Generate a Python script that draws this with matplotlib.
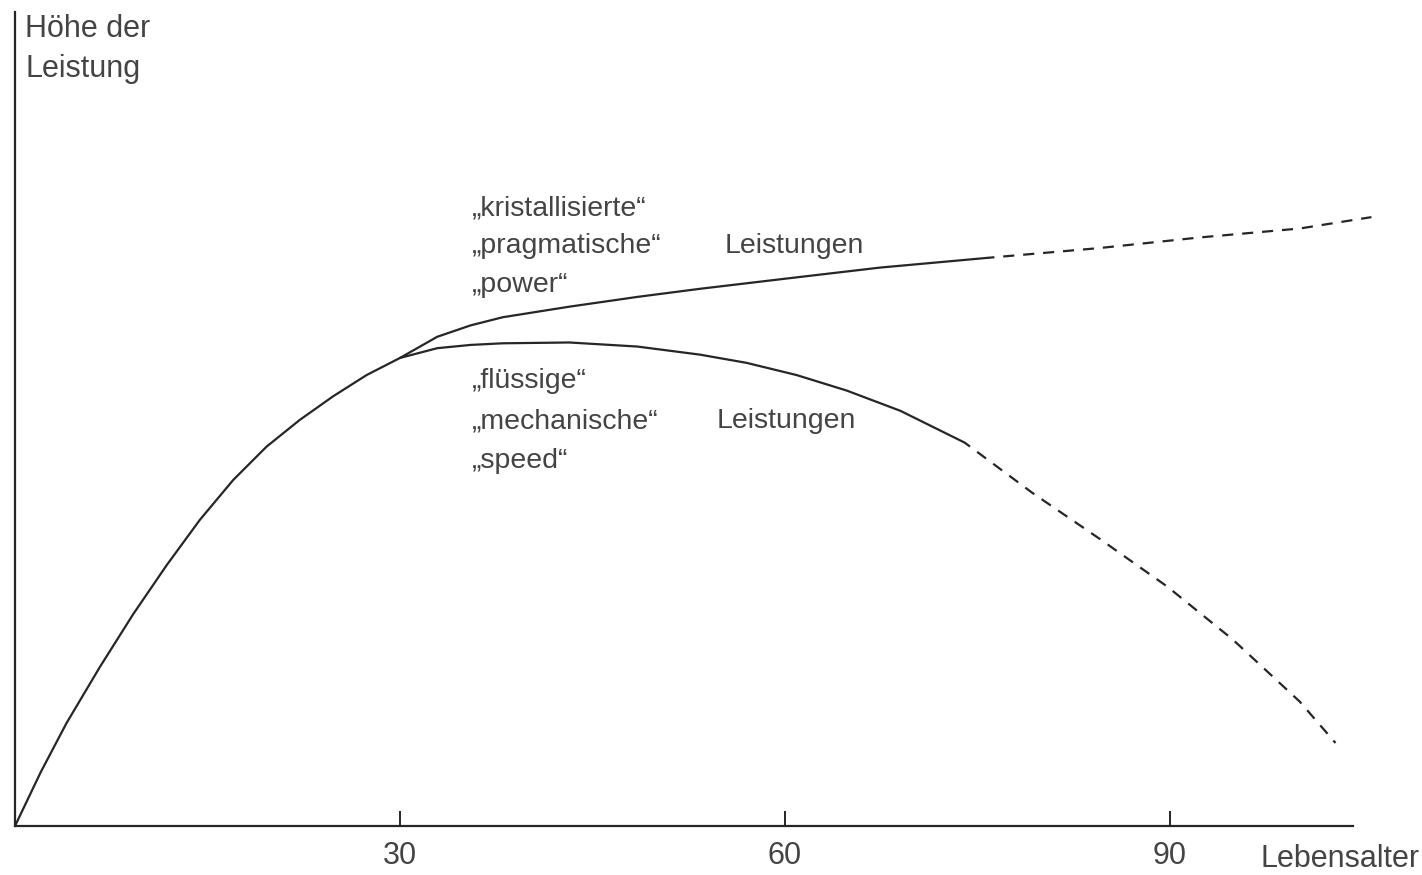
import matplotlib
matplotlib.use("Agg")
import matplotlib.pyplot as plt

plt.rcParams['font.family'] = ['Liberation Sans', 'DejaVu Sans']

# common rise up to about age 30
rise_age = [0, 2.0, 4.0, 6.6, 9.2, 11.8, 14.4, 17.0, 19.6, 22.2, 24.8, 27.4, 30.0]
rise_h = [0, 6.6, 12.6, 19.5, 26.0, 32.0, 37.6, 42.5, 46.6, 49.9, 52.8, 55.4, 57.5]

# "kristallisierte" branch (solid, then dashed)
cryst_age = [30.0, 32.9, 35.5, 38.0, 43.2, 48.5, 53.4, 60.9, 67.4, 75.8]
cryst_h = [57.5, 60.1, 61.5, 62.5, 63.8, 65.0, 66.0, 67.4, 68.6, 69.8]
cryst_age_ext = [75.8, 84.5, 92.3, 100.1, 105.7]
cryst_h_ext = [69.8, 71.0, 72.3, 73.4, 74.8]

# "flüssige" branch (solid, then dashed)
fluid_age = [30.0, 32.9, 35.5, 38.0, 43.2, 48.5, 53.4, 57.0, 60.9, 64.8, 69.0, 74.0]
fluid_h = [57.5, 58.7, 59.1, 59.3, 59.4, 58.9, 57.9, 56.9, 55.4, 53.5, 51.0, 47.1]
fluid_age_ext = [74.0, 79.3, 84.5, 89.8, 94.9, 100.1, 102.9]
fluid_h_ext = [47.1, 40.9, 35.3, 29.4, 22.9, 15.3, 10.2]

xticks = [30, 60, 90]

ink = '#262626'
txt = '#444444'

fig = plt.figure(figsize=(14.22, 8.75), dpi=100)
ax = fig.add_axes([15 / 1422, 49 / 875, 106.5 * 12.833 / 1422, 814 / 875])
ax.set_xlim(0, 106.5)
ax.set_ylim(0, 100)

lw = 1.6
style = dict(color=ink, lw=lw, solid_joinstyle='round', solid_capstyle='round')
ax.plot(rise_age, rise_h, **style)
ax.plot(cryst_age, cryst_h, **style)
ax.plot(fluid_age, fluid_h, **style)
ax.plot(cryst_age_ext, cryst_h_ext, color=ink, lw=lw, linestyle=(2, (5, 4)), clip_on=False)
ax.plot(fluid_age_ext, fluid_h_ext, color=ink, lw=lw, linestyle=(2, (5, 4)))

# axes: only left and bottom lines
for side in ['top', 'right']:
    ax.spines[side].set_visible(False)
for side in ['left', 'bottom']:
    ax.spines[side].set_color(ink)
    ax.spines[side].set_linewidth(1.6)
ax.spines['bottom'].set_bounds(0, 104.26)

ax.set_yticks([])
ax.set_xticks(xticks)
ax.set_xticklabels([str(t) for t in xticks])
ax.tick_params(axis='x', direction='in', length=11, width=1.4, color=ink,
               labelsize=22, labelcolor=txt, pad=11)

# axis titles
ax.text(0.78, 96.93, 'Höhe der', fontsize=22, color=txt, va='baseline', ha='left')
ax.text(0.78, 92.01, 'Leistung', fontsize=22, color=txt, va='baseline', ha='left')
ax.text(97.02, -5.04, 'Lebensalter', fontsize=22, color=txt, va='baseline', ha='left',
        clip_on=False)

# curve labels
fs = 20.5
ax.text(35.61, 74.94, '„kristallisierte“', fontsize=fs, color=txt, va='baseline')
ax.text(35.61, 70.39, '„pragmatische“', fontsize=fs, color=txt, va='baseline')
ax.text(35.61, 65.60, '„power“', fontsize=fs, color=txt, va='baseline')
ax.text(55.33, 70.39, 'Leistungen', fontsize=fs, color=txt, va='baseline')

ax.text(35.61, 53.81, '„flüssige“', fontsize=fs, color=txt, va='baseline')
ax.text(35.61, 48.89, '„mechanische“', fontsize=fs, color=txt, va='baseline')
ax.text(35.61, 43.98, '„speed“', fontsize=fs, color=txt, va='baseline')
ax.text(54.70, 48.89, 'Leistungen', fontsize=fs, color=txt, va='baseline')

fig.savefig('out.png', dpi=100)
